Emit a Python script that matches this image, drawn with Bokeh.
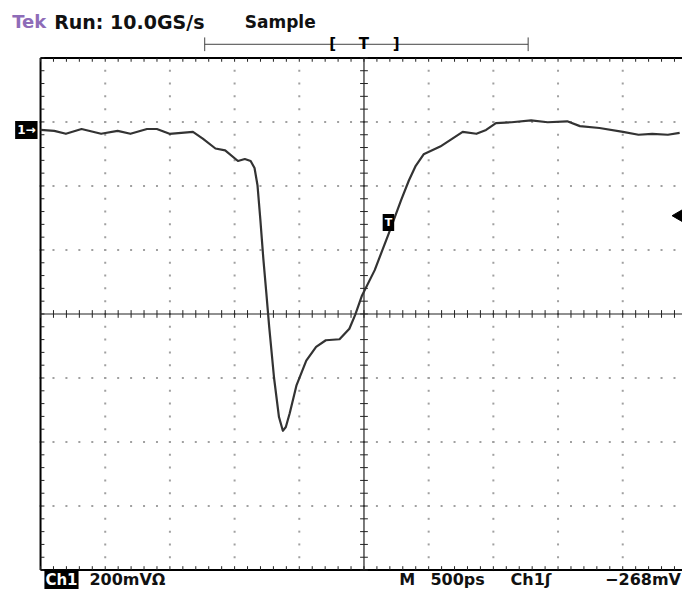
import numpy as np
from bokeh.plotting import figure
from bokeh.models import Range1d, Label
from bokeh.embed import file_html
from bokeh.resources import INLINE

# ---- scope settings ----
T_DIV = 500        # ps per division
V_DIV = 200        # mV per division
V_CENTER = -575    # mV at the centre of the screen (Ch1 ground marker sits above)
TRIG_LEVEL = -268  # mV

# ---- captured trace (time in ps from screen centre, Ch1 in mV) ----
time_ps = [-2500, -2394, -2304, -2183, -2032, -1904, -1805, -1677, -1601, -1503,
           -1412, -1322, -1246, -1148, -1073, -974, -921, -876, -846, -823,
           -801, -778, -755, -733, -695, -657, -627, -604, -574, -521,
           -446, -370, -295, -189, -113, -68, -15, 83, 189, 287,
           347, 400, 461, 589, 763, 869, 944, 1020, 1141, 1292,
           1420, 1571, 1669, 1820, 2002, 2122, 2228, 2349, 2440]
volt_mv = [0, -3, -12, 3, -12, -3, -12, 3, 3, -12,
           -9, -6, -27, -58, -64, -97, -91, -97, -119, -173,
           -280, -402, -508, -614, -775, -897, -940, -928, -885, -797,
           -721, -678, -657, -654, -621, -578, -517, -438, -326, -219,
           -158, -112, -76, -52, -6, -12, 0, 21, 24, 30,
           24, 27, 12, 6, -6, -15, -12, -15, -9]

header_labels = ["Tek", "Run: 10.0GS/s", "Sample"]
footer_labels = ["Ch1", "200mV\u03a9", "M", "500ps", "Ch1", "\u0283", "\u2212268mV"]


def X(d):
    return d * T_DIV


def Y(d):
    return V_CENTER + d * V_DIV


FONT = "DejaVu Sans"

p = figure(width=682, height=589, output_backend="svg", toolbar_location=None,
           x_range=Range1d(X(-5.619), X(4.924)), y_range=Range1d(Y(-4.304), Y(4.897)),
           x_axis_location=None, y_axis_location=None, min_border=0,
           outline_line_color=None, background_fill_color="white",
           border_fill_color="white")
p.grid.visible = False

# ---- dotted graticule ----
gx, gy = [], []
sub_y = np.round(np.arange(-4, 4.0001, 0.2), 3)
sub_x = np.round(np.arange(-5, 5.0001, 0.2), 3)
for d in [-4, -3, -2, -1, 1, 2, 3, 4]:
    for s in sub_y:
        gx.append(X(d)); gy.append(Y(s))
for d in [-3, -2, -1, 1, 2, 3]:
    for s in sub_x:
        gx.append(X(s)); gy.append(Y(d))
p.scatter(gx, gy, marker="square", size=2, color="#a0a0a0", line_color=None)

# ---- frame and centre cross ----
p.segment(x0=[X(-5), X(-5), X(-5), X(5)], y0=[Y(-4), Y(4), Y(-4), Y(-4)],
          x1=[X(-5), X(5), X(5), X(5)], y1=[Y(4), Y(4), Y(-4), Y(4)],
          line_color="black", line_width=2)
p.segment(x0=[X(-5), X(0)], y0=[Y(0), Y(-4)], x1=[X(5), X(0)], y1=[Y(0), Y(4)],
          line_color="#222222", line_width=1.2)

tx = 0.06  # tick length in divisions (~4 px)
x0, y0, x1, y1 = [], [], [], []
for s in sub_x:
    x0 += [X(s), X(s), X(s)]; x1 += [X(s), X(s), X(s)]
    y0 += [Y(4), Y(-4), Y(-tx)]; y1 += [Y(4 - tx), Y(-4 + tx), Y(tx)]
for s in sub_y:
    y0 += [Y(s), Y(s)]; y1 += [Y(s), Y(s)]
    x0 += [X(-5), X(-tx)]; x1 += [X(-5 + tx), X(tx)]
p.segment(x0=x0, y0=y0, x1=x1, y1=y1, line_color="#222222", line_width=1)

# ---- waveform ----
p.line(time_ps, volt_mv, line_color="#333333", line_width=2.2, line_join="round")

# ---- markers ----
p.add_layout(Label(x=X(-5), y=0, x_offset=-3, text="1\u2192", text_align="right",
                   text_baseline="middle", text_color="white", text_font=FONT,
                   text_font_style="bold", text_font_size="12px",
                   background_fill_color="black", padding=2))
p.add_layout(Label(x=X(0.378), y=Y(1.43), text="T", text_align="center",
                   text_baseline="middle", text_color="white", text_font=FONT,
                   text_font_style="bold", text_font_size="11px",
                   background_fill_color="black", padding=2))
p.scatter([X(4.87)], [TRIG_LEVEL], marker="triangle", angle=np.pi / 2, size=12,
          color="black")

# ---- record bar above the screen ----
by = 4.213
p.segment(x0=[X(-2.462), X(-2.462), X(2.538)], y0=[Y(by), Y(by - 0.107), Y(by - 0.107)],
          x1=[X(2.538), X(-2.462), X(2.538)], y1=[Y(by), Y(by + 0.107), Y(by + 0.107)],
          line_color="#444444", line_width=1)
for bx, bt in [(-0.483, "["), (0.0, "T"), (0.498, "]")]:
    p.add_layout(Label(x=X(bx), y=Y(by), text=bt, text_align="center",
                       text_baseline="middle", text_color="black", text_font=FONT,
                       text_font_style="bold", text_font_size="15px"))

# ---- header ----
hy = Y(4.563)
for hx, txt, col, fs in [(-5.438, header_labels[0], "#8e6cb8", "18px"),
                         (-4.789, header_labels[1], "#111111", "19px"),
                         (-1.843, header_labels[2], "#111111", "17px")]:
    p.add_layout(Label(x=X(hx), y=hy, text=txt, text_align="left",
                       text_baseline="middle", text_color=col, text_font=FONT,
                       text_font_style="bold", text_font_size=fs))

# ---- footer ----
fy = Y(-4.149)
p.add_layout(Label(x=X(-4.94), y=fy, text=footer_labels[0], text_align="left",
                   text_baseline="middle", text_color="white", text_font=FONT,
                   text_font_style="bold", text_font_size="15px",
                   background_fill_color="black", padding=1))
for fx, txt in [(-4.245, footer_labels[1]), (0.544, footer_labels[2]),
                (1.027, footer_labels[3]), (2.266, footer_labels[4]),
                (2.795, footer_labels[5])]:
    p.add_layout(Label(x=X(fx), y=fy, text=txt, text_align="left",
                       text_baseline="middle", text_color="#111111", text_font=FONT,
                       text_font_style="bold", text_font_size="16px"))
p.add_layout(Label(x=X(4.90), y=fy, text=footer_labels[6], text_align="right",
                   text_baseline="middle", text_color="#111111", text_font=FONT,
                   text_font_style="bold", text_font_size="16px"))

open("out.html", "w").write(file_html(p, INLINE))
